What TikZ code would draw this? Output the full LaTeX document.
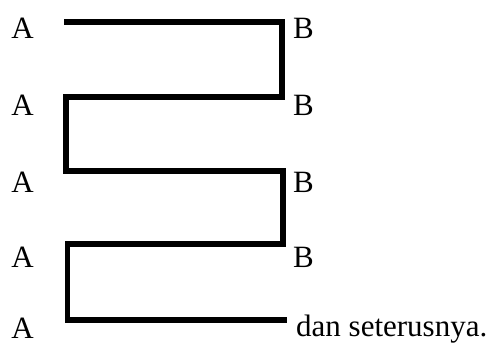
\documentclass[tikz,border=0pt]{standalone}
\usepackage{fontspec}
\setmainfont{Liberation Serif}
\begin{document}
\begin{tikzpicture}[x=1pt,y=1pt,
  lbl/.style={inner sep=0pt,font=\fontsize{31}{36}\selectfont},
  zigzag/.style={line width=5.5pt,line join=miter,line cap=butt}]
\useasboundingbox (0,0) rectangle (488,-345);
% labels
\node[lbl,anchor=base] (A1) at (22.5,-39) {A};
\node[lbl,anchor=base] (A2) at (22.5,-116) {A};
\node[lbl,anchor=base] (A3) at (22.5,-192) {A};
\node[lbl,anchor=base] (A4) at (22.5,-267) {A};
\node[lbl,anchor=base] (A5) at (22.5,-338) {A};
\node[lbl,anchor=base west] (B1) at (293,-39) {B};
\node[lbl,anchor=base west] (B2) at (293,-116) {B};
\node[lbl,anchor=base west] (B3) at (293,-192) {B};
\node[lbl,anchor=base west] (B4) at (293,-267) {B};
\node[lbl,anchor=base west] (dan) at (296,-336) {dan seterusnya.};
% path corners
\coordinate (p0) at (64,-22);
\coordinate (p1) at (282,-22);
\coordinate (p2) at (282,-97);
\coordinate (p3) at (66,-97);
\coordinate (p4) at (66,-171);
\coordinate (p5) at (283,-171);
\coordinate (p6) at (283,-244);
\coordinate (p7) at (67.5,-244);
\coordinate (p8) at (67.5,-320);
\coordinate (p9) at (287,-320);
\draw[zigzag] (p0) -- (p1) -- (p2) -- (p3) -- (p4) -- (p5) -- (p6) -- (p7) -- (p8) -- (p9);
\end{tikzpicture}
\end{document}
